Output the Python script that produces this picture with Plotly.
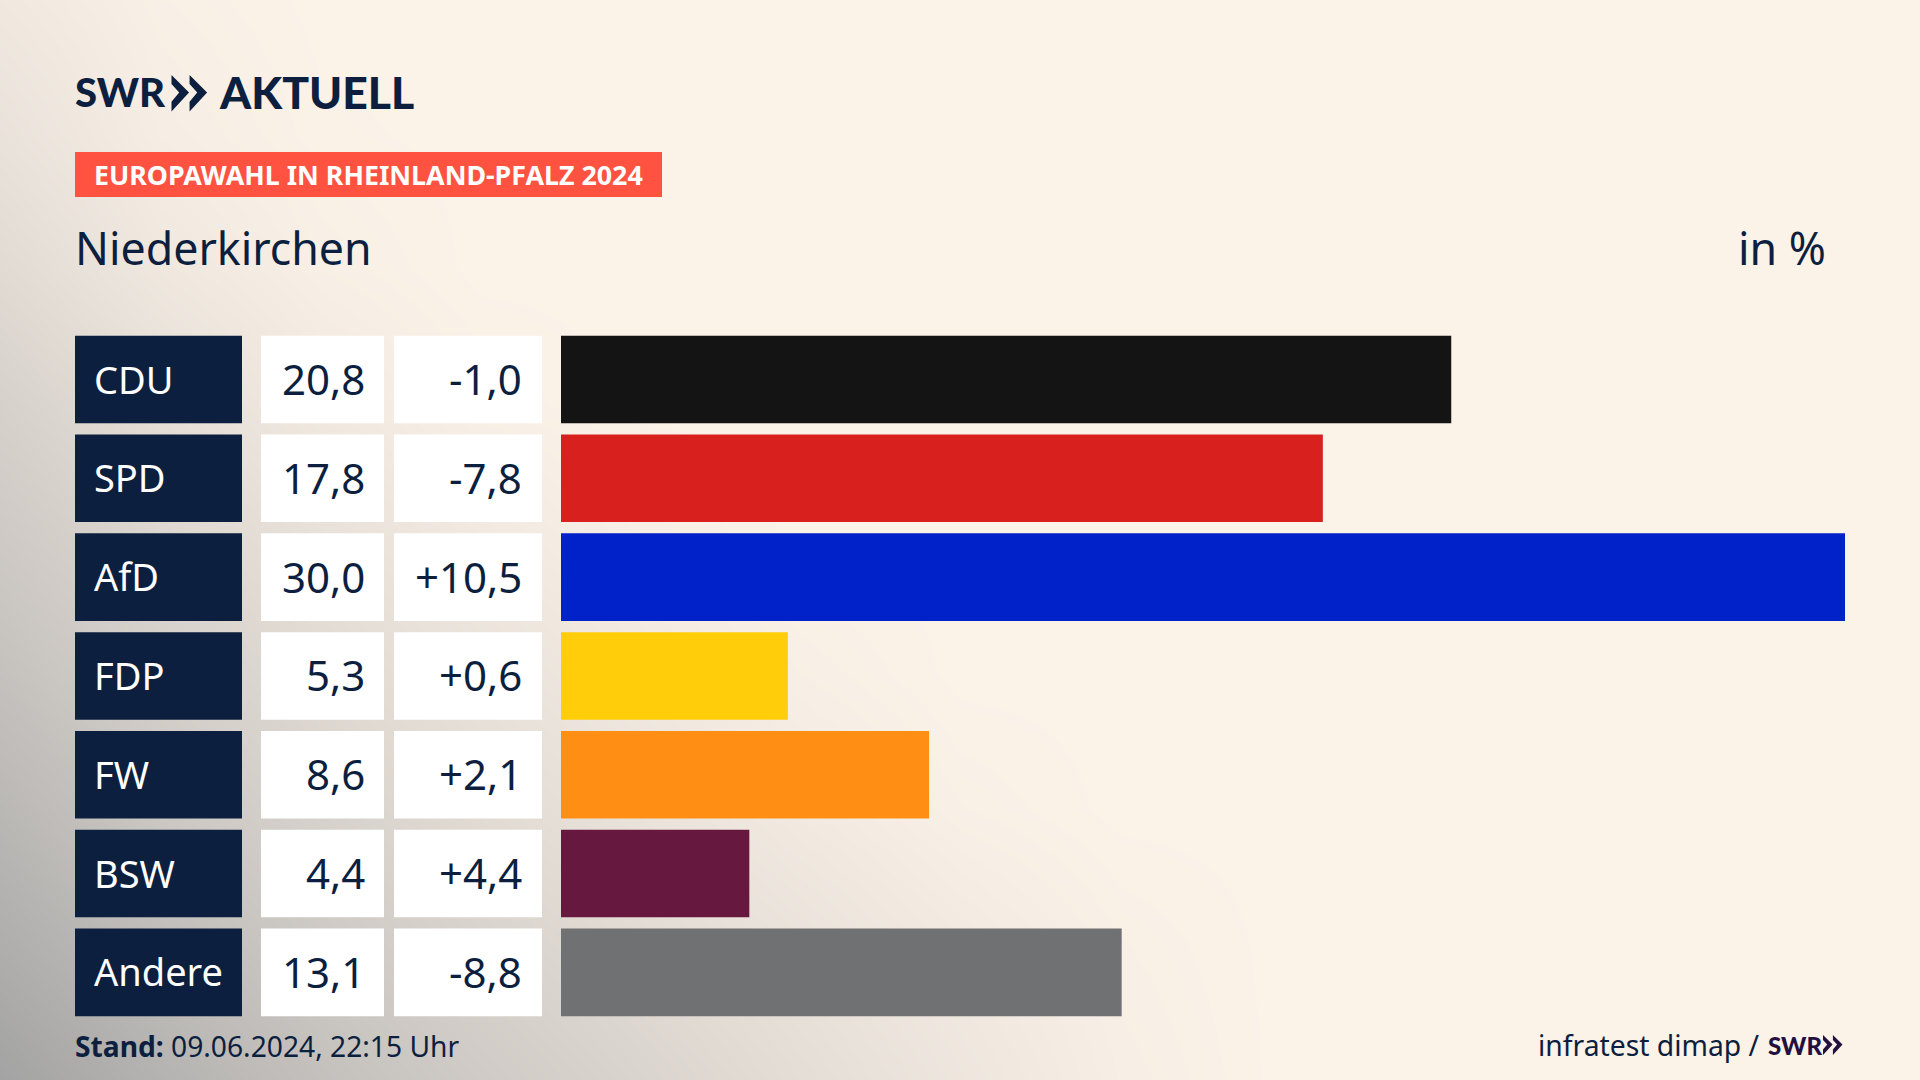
import plotly.graph_objects as go

W, H = 1920, 1080

parties = ["CDU", "SPD", "AfD", "FDP", "FW", "BSW", "Andere"]
votes = [20.8, 17.8, 30.0, 5.3, 8.6, 4.4, 13.1]
changes = [-1.0, -7.8, 10.5, 0.6, 2.1, 4.4, -8.8]
bar_colors = ["#141414", "#D8211F", "#0022C8", "#FFCD0A", "#FF8F14", "#67183E", "#707173"]

NAVY = "#0C1F3F"
CREAM = "#FBF2E8"
FONT = "Noto Sans"
LOGO_FONT = "Lato"

# greyish shade of the backdrop on a coarse grid (0 = cream)
bg_x = [0, 160, 320, 480, 640, 800, 960, 1120, 1280, 1440, 1600, 1760, 1920]
bg_y = [0, 135, 270, 405, 540, 675, 810, 945, 1080]
bg_z = [
    [0.12, 0.03, 0, 0, 0, 0, 0, 0, 0, 0, 0, 0, 0],
    [0.20, 0.06, 0.01, 0, 0, 0, 0, 0, 0, 0, 0, 0, 0],
    [0.30, 0.13, 0.04, 0, 0, 0, 0, 0, 0, 0, 0, 0, 0],
    [0.42, 0.24, 0.11, 0.03, 0, 0, 0, 0, 0, 0, 0, 0, 0],
    [0.52, 0.34, 0.22, 0.11, 0.04, 0, 0, 0, 0, 0, 0, 0, 0],
    [0.62, 0.44, 0.31, 0.20, 0.11, 0.04, 0, 0, 0, 0, 0, 0, 0],
    [0.74, 0.54, 0.41, 0.29, 0.19, 0.10, 0.03, 0, 0, 0, 0, 0, 0],
    [0.86, 0.67, 0.53, 0.40, 0.29, 0.19, 0.10, 0.03, 0, 0, 0, 0, 0],
    [1.00, 0.80, 0.63, 0.50, 0.38, 0.26, 0.15, 0.05, 0, 0, 0, 0, 0],
]


def px(x):
    return x / W


def py(y):
    return 1 - y / H


def chevrons(x0, y0, s, color):
    # the two arrows of the SWR logo, s = height in pixels
    shapes = []
    for i in range(2):
        left = x0 + i * s * 0.495
        pts = [(0, 0), (0.48, 0.48), (0, 1), (0, 0.73), (0.21, 0.48), (0, 0.25)]
        path = " ".join(
            ("M" if k == 0 else "L") + f"{px(left + a * s):.5f},{py(y0 + b * s):.5f}"
            for k, (a, b) in enumerate(pts)
        )
        shapes.append(dict(type="path", path=path + " Z", xref="paper", yref="paper",
                           fillcolor=color, line_width=0))
    return shapes


fig = go.Figure()

fig.add_trace(go.Heatmap(x=bg_x, y=bg_y, z=bg_z, zmin=0, zmax=1, zsmooth="best",
                         colorscale=[[0, CREAM], [1, "#A3A3A3"]], showscale=False,
                         hoverinfo="skip", xaxis="x", yaxis="y"))

# backing cells of the table columns, then the result bars
fig.add_trace(go.Bar(x=[1] * 7, y=parties, marker_color=NAVY, xaxis="x2", yaxis="y2", hoverinfo="skip"))
fig.add_trace(go.Bar(x=[1] * 7, y=parties, marker_color="#FFFFFF", xaxis="x3", yaxis="y2", hoverinfo="skip"))
fig.add_trace(go.Bar(x=[1] * 7, y=parties, marker_color="#FFFFFF", xaxis="x4", yaxis="y2", hoverinfo="skip"))
fig.add_trace(go.Bar(x=votes, y=parties, orientation="h", marker_color=bar_colors, marker_line_width=0,
                     xaxis="x5", yaxis="y2"))
for tr in fig.data[1:4]:
    tr.orientation = "h"
    tr.marker.line.width = 0

hidden = dict(visible=False, showgrid=False, zeroline=False)

annotations = []


def label(text, x, y, size, color=NAVY, anchor="left", family=FONT, yref="paper", weight=None, yshift=0):
    annotations.append(dict(text=text, x=px(x), y=py(y) if yref == "paper" else y, xref="paper", yref=yref,
                            xanchor=anchor, yanchor="middle", showarrow=False, yshift=yshift,
                            font=dict(family=family, size=size, color=color, weight=weight)))


for party, vote, change in zip(parties, votes, changes):
    label(party, 92, party, 38, color="#FFFFFF", yref="y2", yshift=1)
    label(f"{vote:.1f}".replace(".", ","), 366.5, party, 42, anchor="right", yref="y2", yshift=1)
    label(f"{change:+.1f}".replace(".", ","), 523.5, party, 42, anchor="right", yref="y2", yshift=1)

label("SWR", 73, 92, 40, family=LOGO_FONT, weight=900)
label("AKTUELL", 217, 92, 44.5, family=LOGO_FONT, weight=900)
label("<b>EUROPAWAHL IN RHEINLAND-PFALZ 2024</b>", 92, 175, 26.8, color="#FFFFFF")
label("Niederkirchen", 73, 247, 44.7)
label("in %", 1828, 247, 44.7, anchor="right")
label("<b>Stand:</b> 09.06.2024, 22:15 Uhr", 73, 1046, 28.2)
label("infratest dimap /", 1762, 1045, 28.3, anchor="right")
label("SWR", 1766, 1045, 24, color="#23103F", family=LOGO_FONT, weight=900)

shapes = [dict(type="rect", xref="paper", yref="paper", x0=px(75), x1=px(662), y0=py(152), y1=py(197),
               fillcolor="#FF5240", line_width=0)]
shapes += chevrons(171.5, 75, 36.5, NAVY)
shapes += chevrons(1823, 1035, 20, "#23103F")

fig.update_layout(
    width=W, height=H,
    margin=dict(l=0, r=0, t=0, b=0),
    paper_bgcolor=CREAM,
    plot_bgcolor="rgba(0,0,0,0)",
    showlegend=False,
    bargap=0.114,
    font=dict(family=FONT, color=NAVY),
    xaxis=dict(domain=[0, 1], range=[0, W], **hidden),
    yaxis=dict(domain=[0, 1], range=[H, 0], **hidden),
    xaxis2=dict(domain=[px(75), px(242)], range=[0, 1], anchor="y2", **hidden),
    xaxis3=dict(domain=[px(261), px(384)], range=[0, 1], anchor="y2", **hidden),
    xaxis4=dict(domain=[px(394), px(542)], range=[0, 1], anchor="y2", **hidden),
    xaxis5=dict(domain=[px(561), px(1845)], range=[0, 30], anchor="y2", **hidden),
    yaxis2=dict(domain=[py(1021.8), py(330.1)], categoryorder="array", categoryarray=parties,
                range=[6.5, -0.5], anchor="x2", **hidden),
    annotations=annotations,
    shapes=shapes,
)

fig.write_html("out.html", config={"displayModeBar": False},
               post_script="document.body.style.margin='0';document.body.style.overflow='hidden';")
